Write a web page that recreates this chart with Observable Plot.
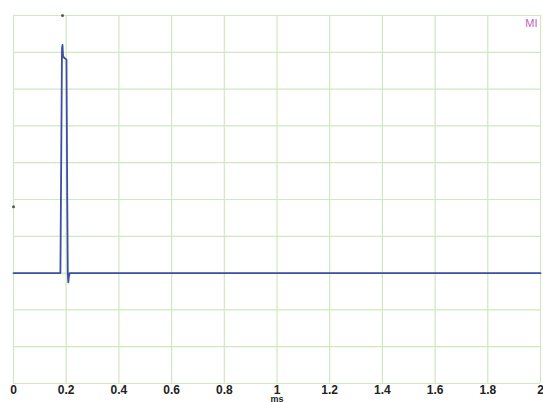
<!DOCTYPE html>
<html><head><meta charset="utf-8">
<script src="https://cdn.jsdelivr.net/npm/d3@7"></script>
<script src="https://cdn.jsdelivr.net/npm/@observablehq/plot@0.6"></script>
<style>body{margin:0;background:#fff}</style>
</head><body><div id="chart"></div>
<script>
const xTicks = [0, 0.2, 0.4, 0.6, 0.8, 1, 1.2, 1.4, 1.6, 1.8, 2];
const yGrid = [-3, -2, -1, 0, 1, 2, 3, 4, 5, 6, 7];
const traceTime = [0, 0.178, 0.181, 0.184, 0.186, 0.188, 0.192, 0.201, 0.204, 0.206, 0.208, 0.210, 0.213, 2];
const traceValue = [0, 0, 3.0, 6.1, 6.2, 5.9, 5.85, 5.8, 2.0, 0, -0.25, -0.1, 0, 0];
const markerTime = [0.186];
const markerLevel = [1.8];
const channelLabel = ["MI"];

const trace = traceTime.map((t, i) => ({t, v: traceValue[i]}));

const chart = Plot.plot({
  width: 543, height: 402,
  marginLeft: 13, marginRight: 3, marginTop: 15, marginBottom: 19,
  x: {domain: [0, 2]},
  y: {domain: [-3, 7], axis: null},
  style: {background: "#fff", fontFamily: "Liberation Sans, Arial, sans-serif"},
  marks: [
    Plot.ruleX(xTicks, {stroke: "#cfe8bf", strokeWidth: 1.2}),
    Plot.ruleY(yGrid, {stroke: "#cfe8bf", strokeWidth: 1.2}),
    Plot.axisX(xTicks, {tickSize: 0, tickPadding: 2, fontSize: 12, fontWeight: "bold", fill: "#222",
      tickFormat: d => String(+d.toFixed(1)), label: null}),
    Plot.text(["ms"], {x: () => 1, frameAnchor: "bottom", dy: 12, lineAnchor: "top", fontSize: 9, fontWeight: "bold", fill: "#222", text: d => d}),
    Plot.line(trace, {x: "t", y: "v", stroke: "#3b4fa6", strokeWidth: 1.8}),
    Plot.dot(markerTime, {x: d => d, y: () => 7, r: 1.5, fill: "#555", stroke: null}),
    Plot.dot(markerLevel, {x: () => 0, y: d => d, r: 1.5, fill: "#555", stroke: null}),
    Plot.text(channelLabel, {frameAnchor: "top-right", dx: -3, dy: 4, fill: "#c060c0", fontSize: 11, text: d => d})
  ]
});
document.getElementById("chart").appendChild(chart);
</script></body></html>
